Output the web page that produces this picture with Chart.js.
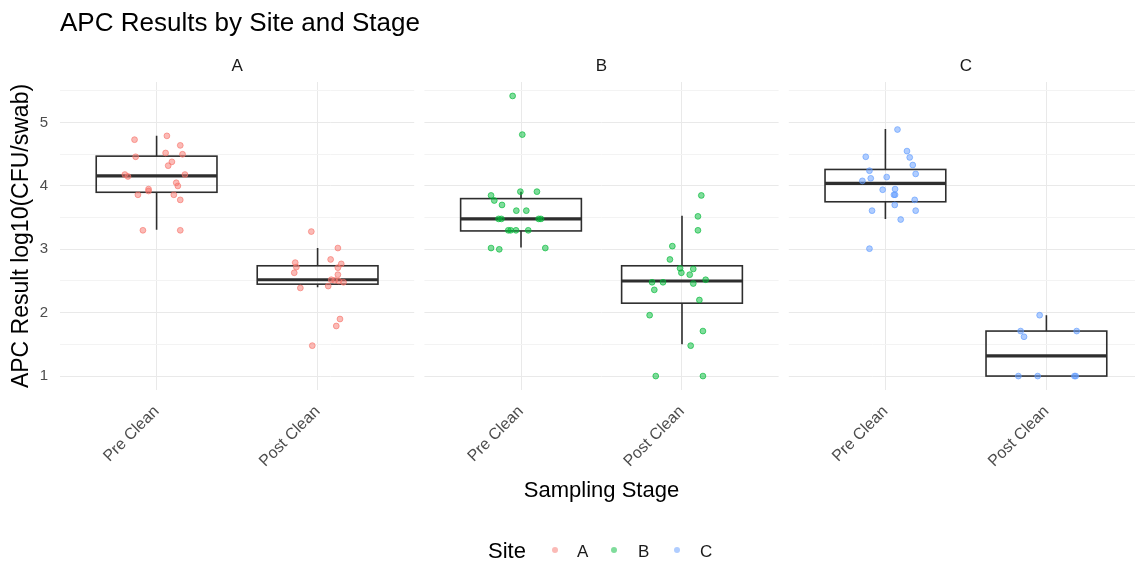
<!DOCTYPE html>
<html><head><meta charset="utf-8">
<script src="https://cdn.jsdelivr.net/npm/chart.js@4.4.1/dist/chart.umd.min.js"></script>
<style>
html,body{margin:0;padding:0;background:#fff;overflow:hidden;width:1135px;height:565px;}
#wrap{position:relative;width:1150px;height:565px;}
canvas{position:absolute;left:0;top:0;}
.lg{position:absolute;font-family:'Liberation Sans',Arial,sans-serif;line-height:1;white-space:nowrap;}
.dot{position:absolute;width:6px;height:6px;border-radius:50%;}
</style></head><body>
<div id="wrap"><canvas id="c" width="1150" height="565"></canvas></div>
<script>
// ---------- data ----------
const chartTitle = 'APC Results by Site and Stage';
const xTitle = 'Sampling Stage';
const yTitle = 'APC Result log10(CFU/swab)';
const legendTitle = 'Site';
const sites = ['A', 'B', 'C'];
const categories = ['Pre Clean', 'Post Clean'];
const yTickValues = [1, 1.5, 2, 2.5, 3, 3.5, 4, 4.5, 5, 5.5];
const siteColors = ['248,118,109', '0,186,56', '97,156,255'];

// points (y values) and horizontal jitter
const aPreY   = [4.73,4.79,4.64,4.52,4.50,4.46,4.38,4.32,4.18,4.15,4.18,4.05,4.00,3.95,3.92,3.86,3.86,3.78,3.30,3.30];
const aPreJit = [-0.137,0.064,0.147,0.056,0.161,-0.130,0.095,0.072,-0.197,-0.178,0.176,0.122,0.132,-0.050,-0.050,-0.116,0.107,0.147,-0.085,0.147];
const aPostY   = [3.28,3.02,2.84,2.79,2.77,2.72,2.71,2.63,2.60,2.52,2.51,2.50,2.48,2.39,2.42,1.90,1.79,1.48];
const aPostJit = [-0.039,0.126,0.081,-0.139,0.147,-0.132,0.126,-0.145,0.126,0.085,0.106,0.132,0.161,-0.107,0.066,0.139,0.116,-0.033];
const bPreY   = [5.42,4.81,3.91,3.91,3.85,3.77,3.70,3.61,3.61,3.48,3.48,3.48,3.48,3.30,3.30,3.30,3.30,3.02,3.00,3.02];
const bPreJit = [-0.052,0.008,-0.004,0.099,-0.186,-0.166,-0.118,-0.029,0.033,-0.139,-0.122,0.110,0.124,-0.079,-0.064,-0.031,0.045,-0.186,-0.135,0.151];
const bPostY   = [3.85,3.52,3.30,3.05,2.84,2.70,2.69,2.63,2.60,2.48,2.48,2.52,2.46,2.36,2.20,1.96,1.71,1.48,1.00,1.00];
const bPostJit = [0.120,0.099,0.099,-0.060,-0.075,-0.012,0.070,-0.004,0.048,-0.186,-0.118,0.147,0.070,-0.172,0.108,-0.201,0.130,0.054,-0.163,0.130];
const cPreY   = [4.89,4.55,4.46,4.45,4.33,4.24,4.19,4.12,4.14,4.08,3.94,3.95,3.86,3.86,3.78,3.70,3.61,3.61,3.47,3.01];
const cPreJit = [0.075,0.134,-0.122,0.151,0.170,-0.099,0.188,-0.091,0.008,-0.143,-0.017,0.060,0.053,0.060,0.182,0.058,-0.083,0.188,0.095,-0.099];
const cPostY   = [1.96,1.71,1.71,1.62,1.00,1.00,1.00,1.00];
const cPostJit = [-0.042,-0.160,0.188,-0.139,-0.174,-0.054,0.174,0.182];

// box statistics per group: A-Pre, A-Post, B-Pre, B-Post, C-Pre, C-Post
const boxLow  = [3.31, 2.40, 3.03, 1.50, 3.48, 1.00];
const boxQ1   = [3.90, 2.45, 3.29, 2.15, 3.75, 1.00];
const boxMed  = [4.16, 2.52, 3.48, 2.50, 4.04, 1.32];
const boxQ3   = [4.47, 2.74, 3.80, 2.74, 4.26, 1.71];
const boxHigh = [4.79, 3.02, 3.91, 3.53, 4.90, 1.96];

// ---------- layout helpers (facet positions on a continuous x axis) ----------
const panelGap = 0.0634;
const panelWidth = 2.2;
const panelStart = k => 0.4 + k * (panelWidth + panelGap);
const catCenter = (k, c) => panelStart(k) + 0.6 + c;
const xMin = panelStart(0);
const xMax = panelStart(sites.length - 1) + panelWidth;

const pointSets = [[aPreY, aPreJit, aPostY, aPostJit],[bPreY, bPreJit, bPostY, bPostJit],[cPreY, cPreJit, cPostY, cPostJit]];
const datasets = sites.map((s, k) => {
  const [preY, preJ, postY, postJ] = pointSets[k];
  const data = preY.map((v, i) => ({x: catCenter(k, 0) + preJ[i], y: v}))
    .concat(postY.map((v, i) => ({x: catCenter(k, 1) + postJ[i], y: v})));
  return {
    label: s, data,
    backgroundColor: 'rgba(' + siteColors[k] + ',0.5)',
    borderColor: 'rgba(' + siteColors[k] + ',0.65)',
    borderWidth: 1, pointRadius: 2.9, pointHoverRadius: 2.9
  };
});
const xTickValues = [];
sites.forEach((s, k) => categories.forEach((c, j) => xTickValues.push(catCenter(k, j))));

const FONT = "'Liberation Sans', Arial, sans-serif";

const facetPlugin = {
  id: 'facet',
  beforeDatasetsDraw(chart) {
    const {ctx, chartArea: a, scales: {x, y}} = chart;
    ctx.save();
    ctx.fillStyle = '#fff';
    for (let k = 1; k < sites.length; k++) {
      const s = x.getPixelForValue(panelStart(k) - panelGap);
      const e = x.getPixelForValue(panelStart(k));
      ctx.fillRect(s, a.top - 2, e - s, a.bottom - a.top + 4);
    }
    ctx.strokeStyle = '#2e2e2e';
    boxMed.forEach((m, i) => {
      const k = Math.floor(i / 2), c = i % 2;
      const cx = catCenter(k, c);
      const xl = x.getPixelForValue(cx - 0.375), xr = x.getPixelForValue(cx + 0.375), xm = x.getPixelForValue(cx);
      const p = v => y.getPixelForValue(v);
      ctx.lineWidth = 1.6;
      ctx.beginPath();
      ctx.moveTo(xm, p(boxQ3[i])); ctx.lineTo(xm, p(boxHigh[i]));
      ctx.moveTo(xm, p(boxQ1[i])); ctx.lineTo(xm, p(boxLow[i]));
      ctx.stroke();
      ctx.strokeRect(xl, p(boxQ3[i]), xr - xl, p(boxQ1[i]) - p(boxQ3[i]));
      ctx.lineWidth = 3.2;
      ctx.beginPath(); ctx.moveTo(xl, p(m)); ctx.lineTo(xr, p(m)); ctx.stroke();
    });
    ctx.restore();
  },
  afterDraw(chart) {
    const {ctx, chartArea: a, scales: {x}} = chart;
    ctx.save();
    ctx.fillStyle = '#000';
    ctx.font = '26px ' + FONT;
    ctx.textAlign = 'left'; ctx.textBaseline = 'alphabetic';
    ctx.fillText(chartTitle, a.left, 31);
    ctx.fillStyle = '#1a1a1a';
    ctx.font = '17px ' + FONT;
    ctx.textAlign = 'center'; ctx.textBaseline = 'middle';
    sites.forEach((s, k) => ctx.fillText(s, x.getPixelForValue(panelStart(k) + panelWidth / 2), 66));
    ctx.restore();
  }
};

new Chart(document.getElementById('c'), {
  type: 'scatter',
  data: {datasets},
  plugins: [facetPlugin],
  options: {
    responsive: false, animation: false, devicePixelRatio: 1,
    layout: {padding: {top: 82, bottom: 55, left: 0, right: 7}},
    plugins: {legend: {display: false}, tooltip: {enabled: false}, title: {display: false}},
    scales: {
      x: {
        type: 'linear', min: xMin, max: xMax,
        afterBuildTicks: s => { s.ticks = xTickValues.map(v => ({value: v})); },
        afterFit: s => { s.height = 120; },
        ticks: {autoSkip: false, minRotation: 45, maxRotation: 45, padding: 12, color: '#4d4d4d',
          font: {family: FONT, size: 16}, callback: (v, i) => categories[i % categories.length]},
        grid: {color: '#e9e9e9', lineWidth: 1, drawTicks: false},
        border: {display: false},
        title: {display: true, text: xTitle, color: '#000', font: {family: FONT, size: 22}, padding: {top: 0, bottom: 6}}
      },
      y: {
        type: 'linear', min: 0.78, max: 5.64,
        afterBuildTicks: s => { s.ticks = yTickValues.map(v => ({value: v})); },
        afterFit: s => { s.width = 60; },
        ticks: {padding: 12, color: '#4d4d4d', font: {family: FONT, size: 15},
          callback: v => Number.isInteger(v) ? String(v) : ''},
        grid: {color: c => Number.isInteger(c.tick.value) ? '#e9e9e9' : '#f3f3f3', lineWidth: 1, drawTicks: false},
        border: {display: false},
        title: {display: true, text: yTitle, color: '#000', font: {family: FONT, size: 23}, padding: {top: 8, bottom: 0}}
      }
    }
  }
});

// legend (HTML)
const wrap = document.getElementById('wrap');
const lgTitle = document.createElement('div');
lgTitle.className = 'lg'; lgTitle.style.cssText = 'left:488px;top:540px;font-size:22px;color:#000';
lgTitle.textContent = legendTitle; wrap.appendChild(lgTitle);
const dotX = [552, 611, 674], labX = [577, 638, 700];
sites.forEach((s, k) => {
  const d = document.createElement('div');
  d.className = 'dot';
  d.style.cssText = 'left:' + dotX[k] + 'px;top:547px;background:rgba(' + siteColors[k] + ',0.5)';
  wrap.appendChild(d);
  const t = document.createElement('div');
  t.className = 'lg'; t.style.cssText = 'left:' + labX[k] + 'px;top:543px;font-size:17px;color:#1a1a1a';
  t.textContent = s; wrap.appendChild(t);
});
</script>
</body></html>
